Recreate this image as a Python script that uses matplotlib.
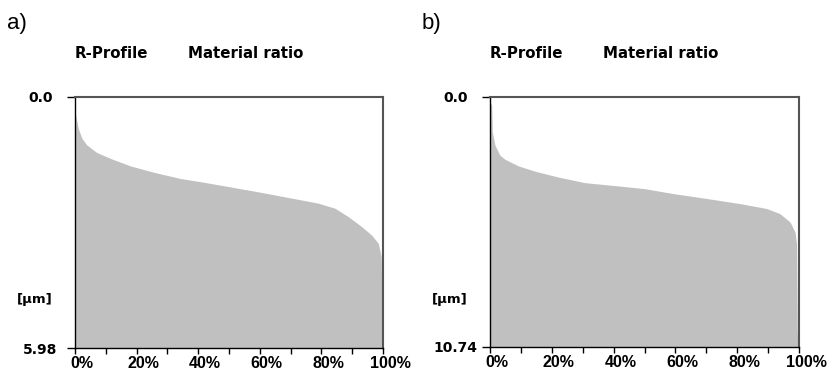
import matplotlib
matplotlib.use('Agg')
import matplotlib.pyplot as plt
from matplotlib.transforms import ScaledTranslation

# material ratio (%) vs. depth (um)
ratio_a = [0, 0.3, 1.07, 2.2, 3.8, 7.0, 11.4, 17.9, 25.4, 34.1, 41.7, 50.3, 59.5, 70.4,
           79.0, 84.4, 88.7, 93.1, 96.3, 98.5, 99.4, 99.6, 99.8, 100]
depth_a = [0.30, 0.47, 0.75, 0.98, 1.14, 1.32, 1.46, 1.64, 1.79, 1.94, 2.03, 2.14, 2.26, 2.41,
           2.53, 2.65, 2.85, 3.09, 3.29, 3.49, 3.80, 4.60, 5.00, 5.98]
max_a = 5.98

ratio_b = [0, 0.55, 0.75, 1.6, 3.2, 4.9, 9.2, 14.6, 22.1, 30.7, 41.5, 50.2, 59.3, 70.1,
           80.9, 89.5, 93.8, 97.1, 98.7, 99.2, 99.45, 99.7, 100]
depth_b = [0.20, 0.36, 1.50, 2.07, 2.50, 2.68, 2.96, 3.19, 3.44, 3.68, 3.82, 3.94, 4.15, 4.36,
           4.58, 4.79, 5.01, 5.37, 5.80, 6.30, 10.16, 10.40, 10.74]
max_b = 10.74

xlabel_pos = [0, 20, 40, 60, 80, 100]
xlabels = ['0%', '20%', '40%', '60%', '80%', '100%']

fig = plt.figure(figsize=(8.32, 3.74), dpi=100)
W, H = 832, 374

panels = [
    ('a)', ratio_a, depth_a, max_a, 75, 383, 97, 348),
    ('b)', ratio_b, depth_b, max_b, 490, 799, 97, 347),
]

for label, ratio, depth, dmax, x0, x1, y0, y1 in panels:
    ax = fig.add_axes([x0 / W, 1 - y1 / H, (x1 - x0) / W, (y1 - y0) / H])
    ax.fill_between(ratio, depth, dmax, color='#c0c0c0', linewidth=0)
    ax.set_xlim(0, 100)
    ax.set_ylim(dmax, 0)
    for s in ['top', 'right']:
        ax.spines[s].set_color('#555555')
        ax.spines[s].set_linewidth(1.5)
    for s in ['left', 'bottom']:
        ax.spines[s].set_color('black')
        ax.spines[s].set_linewidth(1.0)

    # x ticks every 10 %, labels every 20 % drawn a little right of the tick
    ax.set_xticks(range(0, 101, 10))
    ax.set_xticklabels([])
    ax.tick_params(axis='x', direction='out', length=4.3, width=1.0)
    shift = ScaledTranslation(7 / 100, -8 / 100, fig.dpi_scale_trans)
    for pos, txt in zip(xlabel_pos, xlabels):
        ax.text(pos, 0, txt, transform=ax.get_xaxis_transform() + shift,
                ha='center', va='top', fontsize=11.5, fontweight='bold',
                family='Liberation Sans', clip_on=False)

    ax.set_yticks([0, dmax])
    ax.set_yticklabels(['0.0', f'{dmax:.2f}'], fontsize=10, fontweight='bold',
                       family='DejaVu Sans')
    ax.tick_params(axis='y', direction='out', length=5.5, width=1.0, pad=19.5)
    for t in ax.get_yticklabels():
        t.set_horizontalalignment('center')

    fig.text((x0 - 68) / W, 1 - 23 / H, label, fontsize=16, va='center', ha='left',
             family='Liberation Sans')
    fig.text(x0 / W, 1 - 53 / H, 'R-Profile', fontsize=10.8, fontweight='bold',
             va='center', family='DejaVu Sans')
    fig.text((x0 + 113) / W, 1 - 53 / H, 'Material ratio', fontsize=10.8, fontweight='bold',
             va='center', family='DejaVu Sans')
    fig.text((x0 - 58) / W, 1 - 299 / H, '[µm]', fontsize=9.5, fontweight='bold',
             va='center', family='DejaVu Sans')

fig.savefig('out.png', dpi=100)
